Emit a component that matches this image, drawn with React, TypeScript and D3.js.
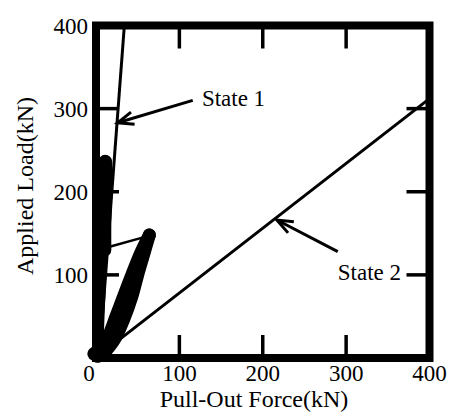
import React from "react";
import * as d3 from "d3";

// values (pull-out force kN, applied load kN)
const xTicks = [0, 100, 200, 300, 400];
const yTicks = [100, 200, 300, 400];
const innerTicks = [100, 200, 300];

const state1 = [[4, 0], [34, 400]];
const state2 = [[6, 5], [400, 312]];

const blobLoad = [[2, 3], [4, 60], [7, 125], [10, 185], [11, 236]];
const blobUnload = [[11, 236], [11, 200], [10, 160], [10, 130]];
const cycleLoad = [[2, 2], [14, 24], [24, 50], [33, 74], [43, 100], [53, 125], [64, 148]];
const cycleUnload = [[64, 148], [57, 124], [50, 100], [43, 74], [33, 46], [22, 22], [8, 4]];
const connector = [[13, 133], [60, 146]];
const origin = [-2, 5];

const arrow1 = { from: [116, 310], to: [26, 283] };
const arrow2 = { from: [290, 128], to: [217, 166] };
const label1 = { text: "State 1", at: [127, 303] };
const label2 = { text: "State 2", at: [290, 94] };

const W = 451;
const H = 415;
const FONT = '"Liberation Serif", "Times New Roman", serif';

export default function App() {
  const x = d3.scaleLinear().domain([0, 400]).range([96, 429.5]);
  const y = d3.scaleLinear().domain([0, 400]).range([358, 25.5]);
  const line = d3
    .line<number[]>()
    .x((d) => x(d[0]))
    .y((d) => y(d[1]))
    .curve(d3.curveCatmullRom);
  const straight = d3
    .line<number[]>()
    .x((d) => x(d[0]))
    .y((d) => y(d[1]));

  const tickLen = 23;

  const arrowHead = (a: { from: number[]; to: number[] }) => {
    const tx = x(a.to[0]);
    const ty = y(a.to[1]);
    const ang = Math.atan2(y(a.from[1]) - ty, x(a.from[0]) - tx);
    const len = 17;
    const spread = 0.38;
    const p1 = [tx + len * Math.cos(ang + spread), ty + len * Math.sin(ang + spread)];
    const p2 = [tx + len * Math.cos(ang - spread), ty + len * Math.sin(ang - spread)];
    return `M${p1[0]},${p1[1]}L${tx},${ty}L${p2[0]},${p2[1]}`;
  };

  return (
    <svg
      width={W}
      height={H}
      style={{ position: "absolute", left: 0, top: 0, background: "#fff" }}
    >
      <rect width={W} height={H} fill="#fff" />

      {/* inward ticks on all four sides */}
      <g stroke="#000" strokeWidth={3.5}>
        {innerTicks.map((t) => (
          <g key={t}>
            <line x1={x(t)} x2={x(t)} y1={y(0)} y2={y(0) - tickLen} />
            <line x1={x(t)} x2={x(t)} y1={y(400)} y2={y(400) + tickLen} />
            <line x1={x(0)} x2={x(0) + tickLen} y1={y(t)} y2={y(t)} />
            <line x1={x(400)} x2={x(400) - tickLen} y1={y(t)} y2={y(t)} />
          </g>
        ))}
      </g>

      {/* state lines */}
      <path d={straight(state1) || ""} stroke="#000" strokeWidth={3} fill="none" />
      <path d={straight(state2) || ""} stroke="#000" strokeWidth={3} fill="none" />

      {/* measured load cycles */}
      <g fill="none" stroke="#000" strokeLinecap="round" strokeLinejoin="round">
        <path d={line(blobLoad) || ""} strokeWidth={11} />
        <path d={line(blobUnload) || ""} strokeWidth={14} />
        <path d={line(cycleLoad) || ""} strokeWidth={13} />
        <path d={line(cycleUnload) || ""} strokeWidth={13} />
        <path d={straight(connector) || ""} strokeWidth={2.5} />
      </g>
      <circle cx={x(origin[0])} cy={y(origin[1])} r={7} fill="#000" />

      {/* frame */}
      <rect
        x={x(0)}
        y={y(400)}
        width={x(400) - x(0)}
        height={y(0) - y(400)}
        fill="none"
        stroke="#000"
        strokeWidth={8}
      />

      {/* annotations */}
      {[arrow1, arrow2].map((a, i) => (
        <g key={i} stroke="#000" strokeWidth={3} fill="none">
          <line x1={x(a.from[0])} y1={y(a.from[1])} x2={x(a.to[0])} y2={y(a.to[1])} />
          <path d={arrowHead(a)} />
        </g>
      ))}
      {[label1, label2].map((l) => (
        <text
          key={l.text}
          x={x(l.at[0])}
          y={y(l.at[1])}
          fontFamily={FONT}
          fontSize={23}
          fill="#000"
        >
          {l.text}
        </text>
      ))}

      {/* tick labels */}
      {xTicks.map((t, i) => (
        <text
          key={t}
          x={x(t) + (i === 0 ? -7 : 0)}
          y={381}
          textAnchor="middle"
          fontFamily={FONT}
          fontSize={23}
        >
          {t}
        </text>
      ))}
      {yTicks.map((t) => (
        <text
          key={t}
          x={88}
          y={y(t)}
          dy="0.35em"
          textAnchor="end"
          fontFamily={FONT}
          fontSize={23}
        >
          {t}
        </text>
      ))}

      {/* axis titles */}
      <text
        x={254}
        y={407}
        textAnchor="middle"
        fontFamily={FONT}
        fontSize={24}
      >
        Pull-Out Force(kN)
      </text>
      <text
        transform="translate(33,186) rotate(-90)"
        textAnchor="middle"
        fontFamily={FONT}
        fontSize={24}
      >
        Applied Load(kN)
      </text>
    </svg>
  );
}
